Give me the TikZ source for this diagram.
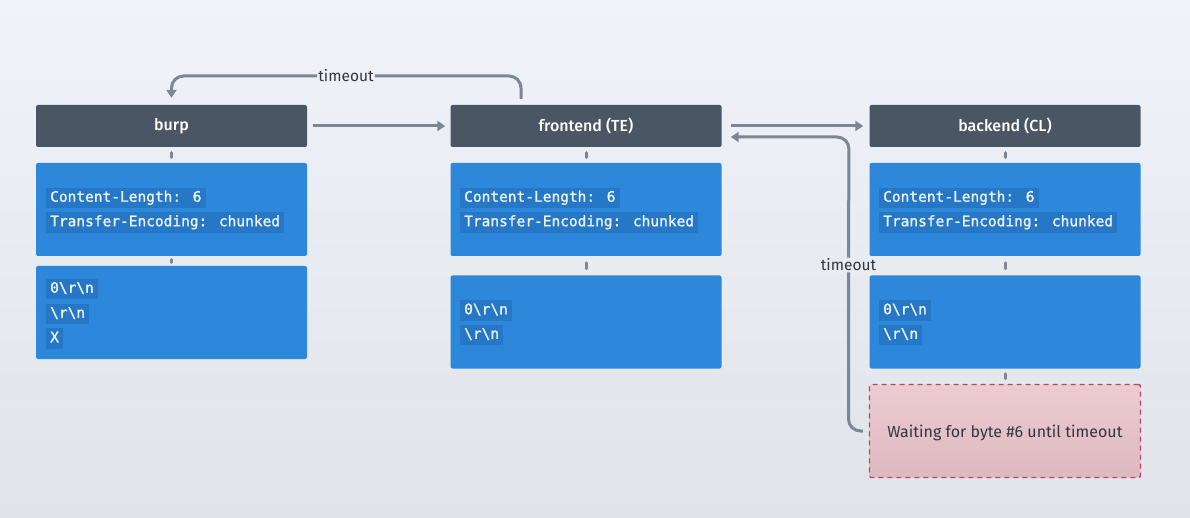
\documentclass[tikz,border=0pt]{standalone}
\usepackage{fontspec}
\setmainfont{Fira Sans}
\newfontfamily\codefont{DejaVu Sans Mono}[RawFeature={embolden=1.2}]
\newfontfamily\hdrfont{Fira Sans Medium}
\usetikzlibrary{arrows.meta,calc}
\definecolor{bgtop}{RGB}{240,243,249}
\definecolor{bgbot}{RGB}{224,227,232}
\definecolor{hdr}{RGB}{75,86,100}
\definecolor{blu}{RGB}{45,136,219}
\definecolor{hl}{RGB}{38,119,198}
\definecolor{gry}{RGB}{123,135,148}
\definecolor{pinktop}{RGB}{236,204,210}
\definecolor{pinkbot}{RGB}{222,184,191}
\definecolor{pinkline}{RGB}{180,72,106}
\definecolor{darktext}{RGB}{50,55,63}
\definecolor{codetext}{RGB}{236,243,251}
\tikzset{
  hdrbox/.style={fill=hdr, rounded corners=2pt, minimum width=271pt, minimum height=42pt,
    text=white, font=\hdrfont\fontsize{16}{19}\selectfont, inner sep=0pt},
  bluebox/.style={fill=blu, rounded corners=2pt, minimum width=271pt, minimum height=93pt, inner sep=0pt},
  waitbox/.style={top color=pinktop, bottom color=pinkbot, draw=pinkline, line width=1.4pt,
    dash pattern=on 5pt off 4pt, rounded corners=2pt, minimum width=271pt, minimum height=93pt,
    inner sep=0pt},
  waittext/.style={text=darktext, font=\fontsize{16}{19}\selectfont, inner sep=0pt},
  code/.style={font=\codefont\fontsize{14.5}{17}\selectfont, text=codetext, fill=hl, anchor=west,
    inner xsep=4pt, inner ysep=3pt, text height=11pt, text depth=3.5pt},
  conn/.style={draw=gry, line width=3pt},
  arr/.style={conn, -{Triangle[length=8pt,width=10pt]}},
  tick/.style={draw=gry, line width=3pt, line cap=round},
  lbl/.style={text=darktext, font=\fontsize{15.5}{18}\selectfont, inner sep=1pt},
}
\begin{document}
\begin{tikzpicture}[x=1pt,y=-1pt]
\useasboundingbox (0,0) rectangle (1190,518);
\fill[top color=bgtop, bottom color=bgbot] (0,0) rectangle (1190,518);

% headers
\node[hdrbox] (burp) at (171.5,126) {burp};
\node[hdrbox] (front) at (586,126) {frontend (TE)};
\node[hdrbox] (back) at (1005,126) {backend (CL)};

% blue boxes
\node[bluebox] (b1) at (171.5,209.5) {};
\node[bluebox] (b2) at (171.5,312.5) {};
\node[bluebox] (f1) at (586,209.5) {};
\node[bluebox] (f2) at (586,322) {};
\node[bluebox] (k1) at (1005,209.5) {};
\node[bluebox] (k2) at (1005,322) {};
\node[waitbox] (wait) at (1005,431) {};
\node[waittext] (waitt) at (1005,433) {Waiting for byte \#6 until timeout};

% code lines
\node[code] (b1a) at (46,198) {Content-Length: 6};
\node[code] (b1b) at (46,222.5) {Transfer-Encoding: chunked};
\node[code] (b2a) at (46,289) {0\textbackslash r\textbackslash n};
\node[code] (b2b) at (46,314) {\textbackslash r\textbackslash n};
\node[code] (b2c) at (46,338.5) {X};
\node[code] (f1a) at (460,198) {Content-Length: 6};
\node[code] (f1b) at (460,222.5) {Transfer-Encoding: chunked};
\node[code] (f2a) at (460,310.5) {0\textbackslash r\textbackslash n};
\node[code] (f2b) at (460,335) {\textbackslash r\textbackslash n};
\node[code] (k1a) at (879,198) {Content-Length: 6};
\node[code] (k1b) at (879,222.5) {Transfer-Encoding: chunked};
\node[code] (k2a) at (879,310.5) {0\textbackslash r\textbackslash n};
\node[code] (k2b) at (879,335) {\textbackslash r\textbackslash n};

% ticks
\foreach \a/\b in {burp/b1,b1/b2,front/f1,f1/f2,back/k1,k1/k2,k2/wait}
  \draw[tick] ($(\a.south)!0.35!(\b.north)$) -- ($(\a.south)!0.65!(\b.north)$);

% arrows
\draw[arr, shorten <=6pt, shorten >=5pt] (burp.east) -- (front.west);
\draw[arr, shorten <=9pt, shorten >=6pt] (front.east) -- (back.west);

% return timeout from backend wait to frontend
\node[lbl] (lab1) at (848.5,265) {timeout};
\draw[conn, rounded corners=12pt, shorten <=6pt] (wait.west) -| (lab1.south);
\coordinate (rc) at (849,137);
\draw[arr, rounded corners=12pt, shorten >=9pt] (lab1.north) -- (rc) -- (front.east |- rc);

% top timeout from frontend to burp
\node[lbl] (lab2) at (346,76) {timeout};
\coordinate (ts) at (521,105);
\draw[conn, rounded corners=12pt, shorten <=6pt] (ts) |- (lab2.east);
\draw[arr, rounded corners=12pt, shorten >=7pt] (lab2.west) -| (burp.north);
\end{tikzpicture}
\end{document}
